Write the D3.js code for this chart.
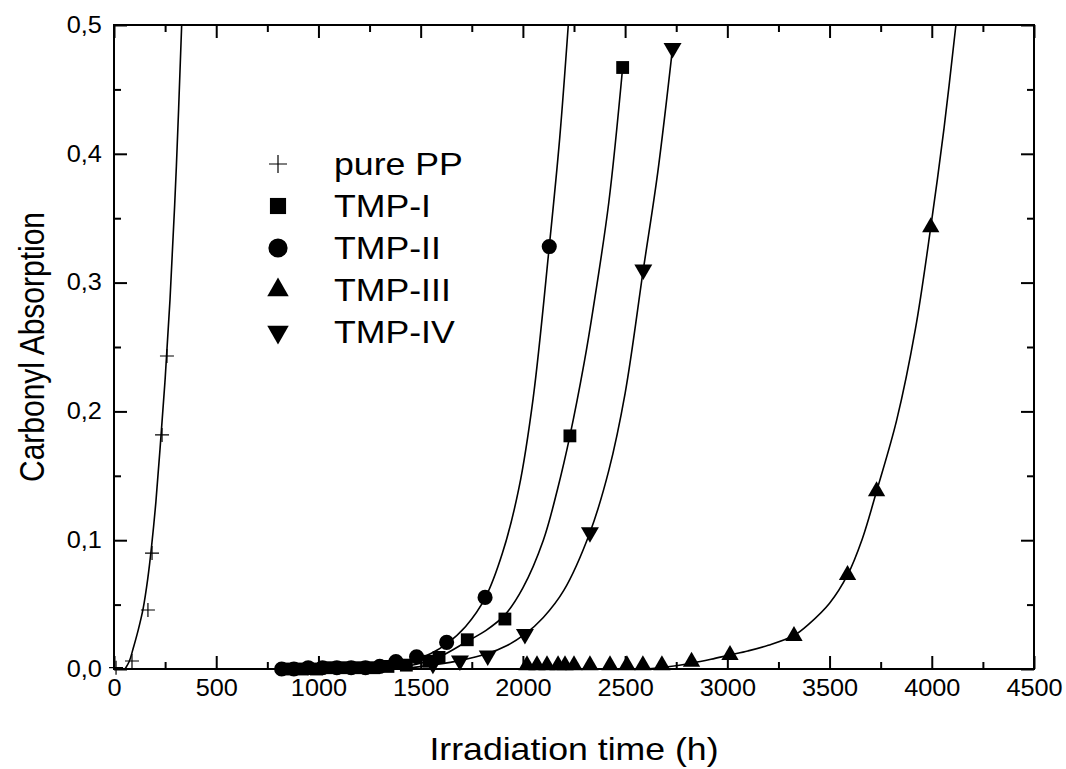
<!DOCTYPE html>
<html>
<head>
<meta charset="utf-8">
<script src="https://cdn.jsdelivr.net/npm/d3@7"></script>
<style>
   body { margin: 0; background: #fff; }
   text { font-family: "Liberation Sans", Arial, sans-serif; fill: #000; }
</style>
</head>
<body>
<div id="chart"></div>
<script>
// Measured points [time (h), carbonyl absorption]
const purePP = [[10, 0.001], [88, 0.0062], [166, 0.0458], [186, 0.090], [235, 0.1817], [259, 0.243]];
const tmpI = [[850, 0], [920, 0], [990, 0], [1060, 0.001], [1130, 0.001], [1200, 0.001], [1270, 0.001],
              [1340, 0.002], [1430, 0.003], [1540, 0.006], [1590, 0.009], [1728, 0.0227], [1912, 0.0388],
              [2230, 0.181], [2488, 0.467]];
const tmpII = [[820, 0], [880, 0], [950, 0.001], [1020, 0.001], [1090, 0.001], [1160, 0.001], [1230, 0.001],
               [1300, 0.002], [1379, 0.0057], [1480, 0.0095], [1627, 0.0207], [1815, 0.0556], [2129, 0.328]];
const tmpIII = [[2020, 0.003], [2069, 0.003], [2118, 0.003], [2172, 0.003], [2206, 0.003], [2250, 0.003],
                [2328, 0.003], [2426, 0.003], [2509, 0.003], [2587, 0.003], [2680, 0.003], [2825, 0.0057],
                [3013, 0.0109], [3326, 0.0256], [3588, 0.073], [3730, 0.138], [3995, 0.343]];
const tmpIV = [[1560, 0.004], [1692, 0.0065], [1828, 0.0103], [2010, 0.027], [2328, 0.106], [2589, 0.31], [2732, 0.482]];

// Fitted curves
const fitPurePP = [[54, 0], [75, 0.006], [93, 0.0155], [118, 0.03], [142, 0.0465], [165, 0.07], [184, 0.0956],
                   [205, 0.13], [225, 0.1705], [249, 0.2225], [274, 0.287], [305, 0.39], [331, 0.5]];
const fitTmpI = [[1300, 0], [1400, 0.0015], [1500, 0.0045], [1600, 0.01], [1728, 0.0215], [1820, 0.03],
                 [1912, 0.042], [2000, 0.063], [2100, 0.1], [2170, 0.14], [2230, 0.181], [2300, 0.238],
                 [2344, 0.28], [2420, 0.362], [2488, 0.467]];
const fitTmpII = [[1200, 0], [1300, 0.0012], [1400, 0.004], [1480, 0.0075], [1550, 0.012], [1627, 0.0195],
                  [1720, 0.033], [1815, 0.055], [1900, 0.09], [1980, 0.14], [2050, 0.21], [2129, 0.328],
                  [2180, 0.412], [2222, 0.5]];
const fitTmpIII = [[2600, 0], [2700, 0.0015], [2825, 0.0045], [2920, 0.0075], [3013, 0.0109], [3100, 0.014],
                   [3200, 0.0184], [3326, 0.026], [3400, 0.035], [3500, 0.051], [3588, 0.073], [3660, 0.101],
                   [3730, 0.138], [3828, 0.193], [3920, 0.264], [3995, 0.343], [4060, 0.42], [4118, 0.5]];
const fitTmpIV = [[1400, 0], [1550, 0.003], [1692, 0.0065], [1828, 0.012], [1920, 0.018], [2010, 0.027],
                  [2100, 0.04], [2200, 0.061], [2328, 0.106], [2420, 0.154], [2500, 0.214], [2589, 0.31],
                  [2660, 0.386], [2732, 0.482]];

const seriesNames = ["pure PP", "TMP-I", "TMP-II", "TMP-III", "TMP-IV"];
const xMajor = [0, 500, 1000, 1500, 2000, 2500, 3000, 3500, 4000, 4500];
const xMinor = [250, 750, 1250, 1750, 2250, 2750, 3250, 3750, 4250];
const yMajor = [0, 0.1, 0.2, 0.3, 0.4, 0.5];
const yMinor = [0.05, 0.15, 0.25, 0.35, 0.45];

let width = 1066, height = 769;
let margin = {top: 25, right: 32, bottom: 100, left: 114};

// the original lettering is a bit wide, so text is stretched sideways
let stretch = 1.15;

let svg = d3.select("#chart")
            .append("svg")
            .attr("width", width)
            .attr("height", height);

// Scales
let x = d3.scaleLinear()
          .domain([0, 4500])
          .range([margin.left, width - margin.right]);

let y = d3.scaleLinear()
          .domain([0, 0.5])
          .range([height - margin.bottom, margin.top]);

let commaFmt = d => d3.format(".1f")(d).replace(".", ",");

// Axes with inward ticks on all four sides
function styleAxis(g) {
   g.select(".domain").remove();
   g.selectAll(".tick line").attr("stroke", "#000").attr("stroke-width", 2);
   g.selectAll(".tick text")
    .style("font-size", "23px")
    .attr("fill", "#000")
    .attr("transform", "scale(1.1,1)");
}

svg.append("g")
   .attr("transform", `translate(0, ${y(0)})`)
   .call(d3.axisBottom(x).tickValues(xMajor).tickSizeInner(-13).tickSizeOuter(0).tickPadding(11).tickFormat(d3.format("d")))
   .call(styleAxis);
svg.append("g")
   .attr("transform", `translate(0, ${y(0)})`)
   .call(d3.axisBottom(x).tickValues(xMinor).tickSizeInner(-7).tickSizeOuter(0).tickFormat(""))
   .call(styleAxis);
svg.append("g")
   .attr("transform", `translate(0, ${y(0.5)})`)
   .call(d3.axisTop(x).tickValues(xMajor).tickSizeInner(-13).tickSizeOuter(0).tickFormat(""))
   .call(styleAxis);
svg.append("g")
   .attr("transform", `translate(0, ${y(0.5)})`)
   .call(d3.axisTop(x).tickValues(xMinor).tickSizeInner(-7).tickSizeOuter(0).tickFormat(""))
   .call(styleAxis);

svg.append("g")
   .attr("transform", `translate(${x(0)}, 0)`)
   .call(d3.axisLeft(y).tickValues(yMajor).tickSizeInner(-13).tickSizeOuter(0).tickPadding(11).tickFormat(commaFmt))
   .call(styleAxis);
svg.append("g")
   .attr("transform", `translate(${x(0)}, 0)`)
   .call(d3.axisLeft(y).tickValues(yMinor).tickSizeInner(-7).tickSizeOuter(0).tickFormat(""))
   .call(styleAxis);
svg.append("g")
   .attr("transform", `translate(${x(4500)}, 0)`)
   .call(d3.axisRight(y).tickValues(yMajor).tickSizeInner(-13).tickSizeOuter(0).tickFormat(""))
   .call(styleAxis);
svg.append("g")
   .attr("transform", `translate(${x(4500)}, 0)`)
   .call(d3.axisRight(y).tickValues(yMinor).tickSizeInner(-7).tickSizeOuter(0).tickFormat(""))
   .call(styleAxis);

// Frame
svg.append("rect")
   .attr("x", x(0))
   .attr("y", y(0.5))
   .attr("width", x(4500) - x(0))
   .attr("height", y(0) - y(0.5))
   .attr("fill", "none")
   .attr("stroke", "#000")
   .attr("stroke-width", 2);

// Fit curves
let line = d3.line()
             .x(d => x(d[0]))
             .y(d => y(d[1]))
             .curve(d3.curveCatmullRom.alpha(0.5));

[fitPurePP, fitTmpI, fitTmpII, fitTmpIII, fitTmpIV].forEach(fit => {
   svg.append("path")
      .datum(fit)
      .attr("d", line)
      .attr("fill", "none")
      .attr("stroke", "#000")
      .attr("stroke-width", 1.6);
});

// Marker shapes
let plusPath = s => `M${-s},0H${s}M0,${-s}V${s}`;
let markers = [
   {data: purePP, path: plusPath(7), legend: plusPath(9), plus: true, rot: 0},
   {data: tmpI, path: d3.symbol(d3.symbolSquare, 165)(), legend: d3.symbol(d3.symbolSquare, 260)(), rot: 0},
   {data: tmpII, path: d3.symbol(d3.symbolCircle, 180)(), legend: d3.symbol(d3.symbolCircle, 290)(), rot: 0},
   {data: tmpIII, path: d3.symbol(d3.symbolTriangle, 130)(), legend: d3.symbol(d3.symbolTriangle, 200)(), rot: 0},
   {data: tmpIV, path: d3.symbol(d3.symbolTriangle, 140)(), legend: d3.symbol(d3.symbolTriangle, 200)(), rot: 180}
];

markers.forEach(m => {
   svg.append("g")
      .selectAll("path")
      .data(m.data)
      .enter()
      .append("path")
      .attr("transform", d => `translate(${x(d[0])},${y(d[1])}) rotate(${m.rot})`)
      .attr("d", m.path)
      .attr("fill", m.plus ? "none" : "#000")
      .attr("stroke", "#000")
      .attr("stroke-width", m.plus ? 1.2 : 0);
});

// Legend
let legendX = 278, legendY = 164, legendStep = 42;
let legend = svg.append("g");
markers.forEach((m, i) => {
   legend.append("path")
         .attr("transform", `translate(${legendX},${legendY + i * legendStep}) rotate(${m.rot})`)
         .attr("d", m.legend)
         .attr("fill", m.plus ? "none" : "#000")
         .attr("stroke", "#000")
         .attr("stroke-width", m.plus ? 1.2 : 0);
   legend.append("text")
         .attr("transform", `translate(${legendX + 56},${legendY + i * legendStep + 11}) scale(${stretch},1)`)
         .style("font-size", "31px")
         .text(seriesNames[i]);
});

// Axis titles
svg.append("text")
   .attr("transform", `translate(${(x(0) + x(4500)) / 2},760) scale(${stretch},1)`)
   .style("text-anchor", "middle")
   .style("font-size", "31px")
   .text("Irradiation time (h)");

svg.append("text")
   .attr("transform", `translate(44,347) scale(${stretch},1) rotate(-90)`)
   .style("text-anchor", "middle")
   .style("font-size", "30px")
   .text("Carbonyl Absorption");
</script>
</body>
</html>
